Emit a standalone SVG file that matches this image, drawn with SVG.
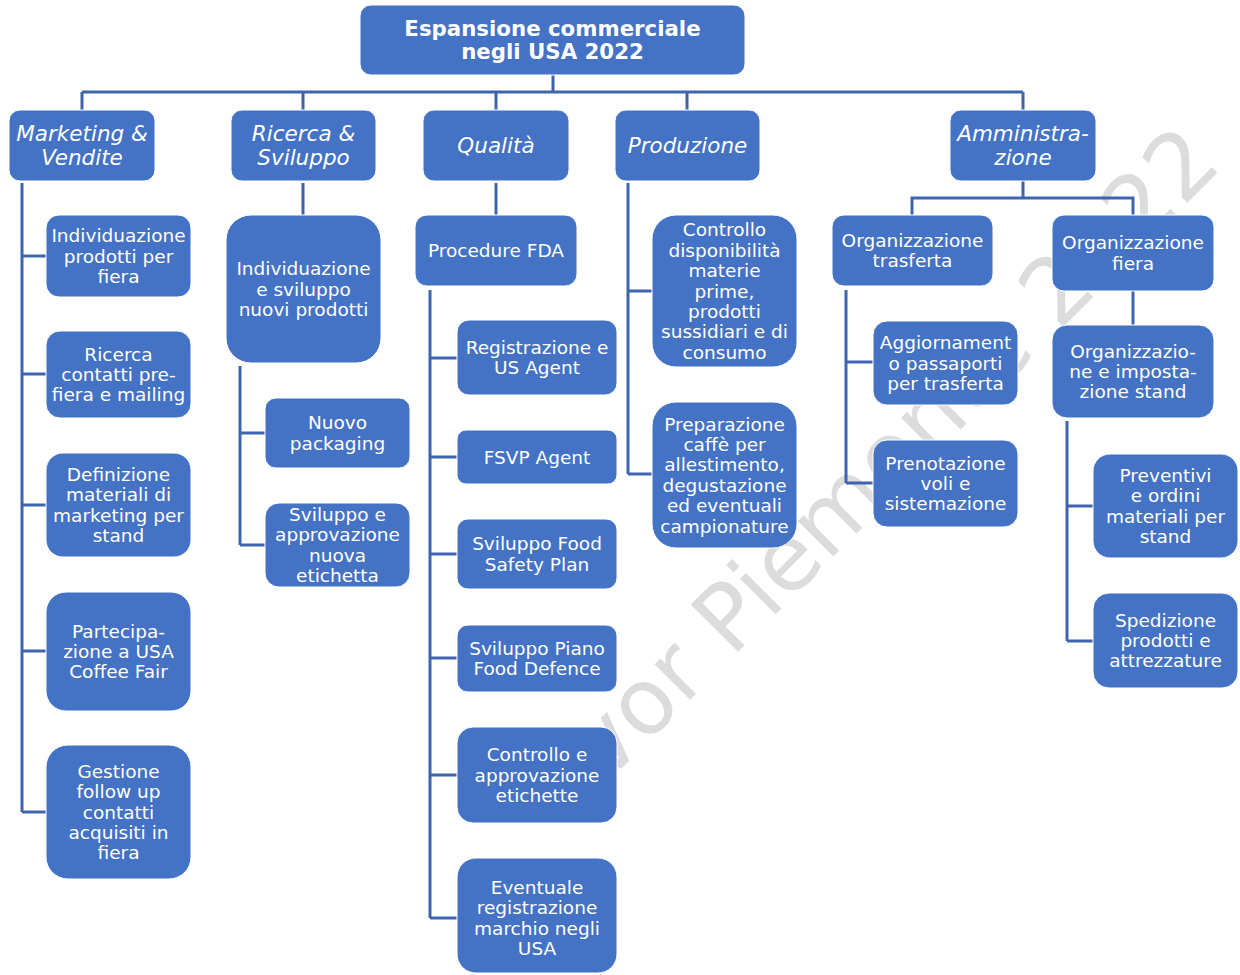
<svg xmlns="http://www.w3.org/2000/svg" width="1240" height="975" viewBox="0 0 1240 975">
<style>
.bg{fill:#ffffff}
.wm{font-family:"DejaVu Sans","Liberation Sans",sans-serif;font-size:92px;fill:#dcdcdc}
.box{fill:#4472c4;stroke:#ffffff;stroke-width:1}
.conn{fill:none;stroke:#3e64ae;stroke-width:3;stroke-linejoin:miter}
.t{font-family:"DejaVu Sans",Verdana,"Liberation Sans",sans-serif;font-size:18.5px;fill:#ffffff;text-anchor:middle}
.h{font-family:"DejaVu Sans",Verdana,"Liberation Sans",sans-serif;font-size:21.5px;font-style:italic;fill:#ffffff;text-anchor:middle}
.ti{font-family:"DejaVu Sans",Verdana,"Liberation Sans",sans-serif;font-size:21.3px;font-weight:bold;fill:#ffffff;text-anchor:middle}
</style>
<rect class="bg" x="0" y="0" width="1240" height="975"/>
<text class="wm" transform="translate(606 784) rotate(-45)">vor Piemonte 2022</text>

<g id="connectors">
<path class="conn" d="M553 75V92M82 92H1023M82 92V110M303 92V110M496 92V110M687 92V110M1023 92V110"/>
<path class="conn" d="M22 183V812M22 256H46M22 374H46M22 505H46M22 651H46M22 812H46"/>
<path class="conn" d="M303 183V215M240 366V545M240 433H265M240 545H265"/>
<path class="conn" d="M496 183V215M430 290V918M430 358H457M430 457H457M430 554H457M430 658H457M430 775H457M430 918H457"/>
<path class="conn" d="M628 183V474M628 291H652M628 474H652"/>
<path class="conn" d="M1023 181V198M912 215V198H1133V215"/>
<path class="conn" d="M846 290V483M846 362H873M846 483H873"/>
<path class="conn" d="M1133 291V325M1067 421V641M1067 506H1093M1067 641H1093"/>
</g>

<g id="root"><rect class="box" x="360" y="5" width="385" height="70" rx="11"/>
<text class="ti" x="552.5" y="36.2">Espansione commerciale</text><text class="ti" x="552.5" y="59.2">negli USA 2022</text></g>

<g id="marketing"><rect class="box" x="9" y="110" width="146" height="71" rx="11"/>
<text class="h" x="82" y="141">Marketing &amp;</text><text class="h" x="82" y="165">Vendite</text></g>
<g id="ricerca"><rect class="box" x="231" y="110" width="145" height="71" rx="11"/>
<text class="h" x="303.5" y="141">Ricerca &amp;</text><text class="h" x="303.5" y="165">Sviluppo</text></g>
<g id="qualita"><rect class="box" x="423" y="110" width="146" height="71" rx="11"/>
<text class="h" x="496" y="153">Qualità</text></g>
<g id="produzione"><rect class="box" x="615" y="110" width="145" height="71" rx="11"/>
<text class="h" x="687.5" y="153">Produzione</text></g>
<g id="amministrazione"><rect class="box" x="950" y="110" width="146" height="71" rx="11"/>
<text class="h" x="1023" y="141">Amministra-</text><text class="h" x="1023" y="165">zione</text></g>

<g id="m1"><rect class="box" x="46" y="215" width="145" height="82" rx="13"/>
<text class="t" x="118.5" y="242.1">Individuazione</text><text class="t" x="118.5" y="262.5">prodotti per</text><text class="t" x="118.5" y="282.9">fiera</text></g>
<g id="m2"><rect class="box" x="46" y="331" width="145" height="87" rx="14"/>
<text class="t" x="118.5" y="360.6">Ricerca</text><text class="t" x="118.5" y="381">contatti pre-</text><text class="t" x="118.5" y="401.4">fiera e mailing</text></g>
<g id="m3"><rect class="box" x="46" y="453" width="145" height="104" rx="17"/>
<text class="t" x="118.5" y="480.9">Definizione</text><text class="t" x="118.5" y="501.3">materiali di</text><text class="t" x="118.5" y="521.7">marketing per</text><text class="t" x="118.5" y="542.1">stand</text></g>
<g id="m4"><rect class="box" x="46" y="592" width="145" height="119" rx="20"/>
<text class="t" x="118.5" y="637.6">Partecipa-</text><text class="t" x="118.5" y="658">zione a USA</text><text class="t" x="118.5" y="678.4">Coffee Fair</text></g>
<g id="m5"><rect class="box" x="46" y="745" width="145" height="134" rx="22"/>
<text class="t" x="118.5" y="777.7">Gestione</text><text class="t" x="118.5" y="798.1">follow up</text><text class="t" x="118.5" y="818.5">contatti</text><text class="t" x="118.5" y="838.9">acquisiti in</text><text class="t" x="118.5" y="859.3">fiera</text></g>

<g id="r1"><rect class="box" x="226" y="215" width="155" height="148" rx="25"/>
<text class="t" x="303.5" y="275.1">Individuazione</text><text class="t" x="303.5" y="295.5">e sviluppo</text><text class="t" x="303.5" y="315.9">nuovi prodotti</text></g>
<g id="r2"><rect class="box" x="265" y="398" width="145" height="70" rx="11"/>
<text class="t" x="337.5" y="429.3">Nuovo</text><text class="t" x="337.5" y="449.7">packaging</text></g>
<g id="r3"><rect class="box" x="265" y="503" width="145" height="84" rx="14"/>
<text class="t" x="337.5" y="520.9">Sviluppo e</text><text class="t" x="337.5" y="541.3">approvazione</text><text class="t" x="337.5" y="561.7">nuova</text><text class="t" x="337.5" y="582.1">etichetta</text></g>

<g id="q1"><rect class="box" x="415" y="215" width="162" height="71" rx="12"/>
<text class="t" x="496" y="257">Procedure FDA</text></g>
<g id="q2"><rect class="box" x="457" y="320" width="160" height="75" rx="12"/>
<text class="t" x="537" y="353.8">Registrazione e</text><text class="t" x="537" y="374.2">US Agent</text></g>
<g id="q3"><rect class="box" x="457" y="430" width="160" height="54" rx="9"/>
<text class="t" x="537" y="463.5">FSVP Agent</text></g>
<g id="q4"><rect class="box" x="457" y="519" width="160" height="70" rx="11"/>
<text class="t" x="537" y="550.3">Sviluppo Food</text><text class="t" x="537" y="570.7">Safety Plan</text></g>
<g id="q5"><rect class="box" x="457" y="625" width="160" height="67" rx="11"/>
<text class="t" x="537" y="654.8">Sviluppo Piano</text><text class="t" x="537" y="675.2">Food Defence</text></g>
<g id="q6"><rect class="box" x="457" y="727" width="160" height="96" rx="16"/>
<text class="t" x="537" y="761.1">Controllo e</text><text class="t" x="537" y="781.5">approvazione</text><text class="t" x="537" y="801.9">etichette</text></g>
<g id="q7"><rect class="box" x="457" y="858" width="160" height="115" rx="19"/>
<text class="t" x="537" y="893.9">Eventuale</text><text class="t" x="537" y="914.3">registrazione</text><text class="t" x="537" y="934.7">marchio negli</text><text class="t" x="537" y="955.1">USA</text></g>

<g id="p1"><rect class="box" x="652" y="215" width="145" height="152" rx="24"/>
<text class="t" x="724.5" y="236.3">Controllo</text><text class="t" x="724.5" y="256.7">disponibilità</text><text class="t" x="724.5" y="277.1">materie</text><text class="t" x="724.5" y="297.5">prime,</text><text class="t" x="724.5" y="317.9">prodotti</text><text class="t" x="724.5" y="338.3">sussidiari e di</text><text class="t" x="724.5" y="358.7">consumo</text></g>
<g id="p2"><rect class="box" x="652" y="402" width="145" height="146" rx="24"/>
<text class="t" x="724.5" y="430.5">Preparazione</text><text class="t" x="724.5" y="450.9">caffè per</text><text class="t" x="724.5" y="471.3">allestimento,</text><text class="t" x="724.5" y="491.7">degustazione</text><text class="t" x="724.5" y="512.1">ed eventuali</text><text class="t" x="724.5" y="532.5">campionature</text></g>

<g id="a1"><rect class="box" x="832" y="215" width="161" height="71" rx="12"/>
<text class="t" x="912.5" y="246.8">Organizzazione</text><text class="t" x="912.5" y="267.2">trasferta</text></g>
<g id="a2"><rect class="box" x="1052" y="215" width="162" height="76" rx="12"/>
<text class="t" x="1133" y="249.3">Organizzazione</text><text class="t" x="1133" y="269.7">fiera</text></g>
<g id="a11"><rect class="box" x="873" y="321" width="145" height="84" rx="14"/>
<text class="t" x="945.5" y="349.1">Aggiornament</text><text class="t" x="945.5" y="369.5">o passaporti</text><text class="t" x="945.5" y="389.9">per trasferta</text></g>
<g id="a12"><rect class="box" x="873" y="440" width="145" height="87" rx="14"/>
<text class="t" x="945.5" y="469.6">Prenotazione</text><text class="t" x="945.5" y="490">voli e</text><text class="t" x="945.5" y="510.4">sistemazione</text></g>
<g id="a21"><rect class="box" x="1052" y="325" width="162" height="93" rx="15"/>
<text class="t" x="1133" y="357.6">Organizzazio-</text><text class="t" x="1133" y="378">ne e imposta-</text><text class="t" x="1133" y="398.4">zione stand</text></g>
<g id="a211"><rect class="box" x="1093" y="454" width="145" height="104" rx="17"/>
<text class="t" x="1165.5" y="481.9">Preventivi</text><text class="t" x="1165.5" y="502.3">e ordini</text><text class="t" x="1165.5" y="522.7">materiali per</text><text class="t" x="1165.5" y="543.1">stand</text></g>
<g id="a212"><rect class="box" x="1093" y="593" width="145" height="95" rx="16"/>
<text class="t" x="1165.5" y="626.6">Spedizione</text><text class="t" x="1165.5" y="647">prodotti e</text><text class="t" x="1165.5" y="667.4">attrezzature</text></g>
</svg>
